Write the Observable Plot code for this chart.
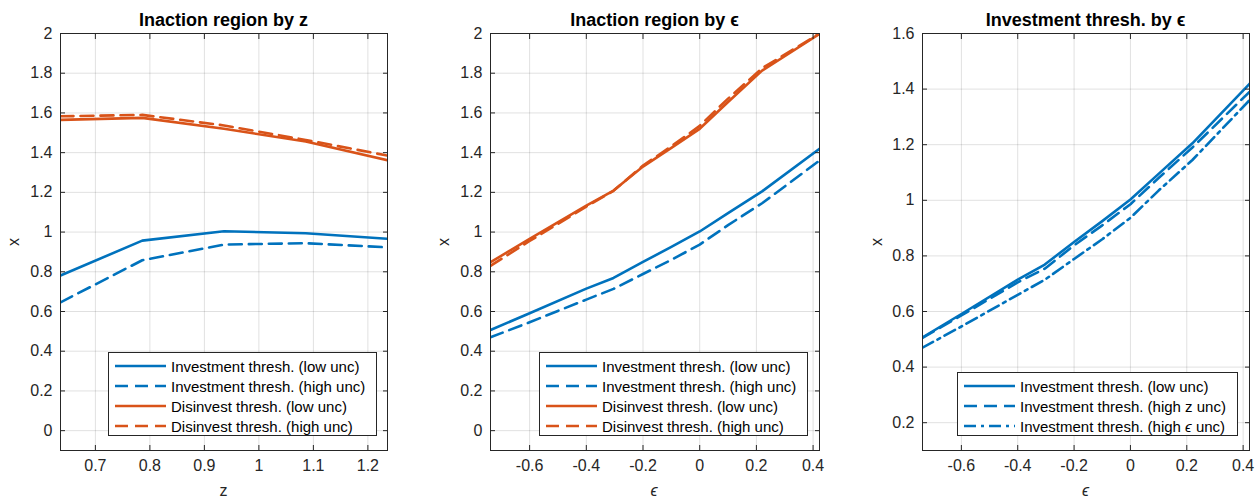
<!DOCTYPE html>
<html><head><meta charset="utf-8">
<script src="https://cdn.jsdelivr.net/npm/d3@7"></script>
<script src="https://cdn.jsdelivr.net/npm/@observablehq/plot@0.6"></script>
<style>
body{margin:0;background:#fff;font-family:"Liberation Sans",Arial,sans-serif;}
#wrap{position:relative;width:1257px;height:500px;overflow:hidden;background:#fff;}
.panel{position:absolute;top:0;}
.title{position:absolute;font-weight:bold;font-size:18px;color:#000;transform:translate(-50%,-50%);white-space:nowrap;}
.lab{position:absolute;font-size:16px;color:#262626;transform:translate(-50%,-50%);white-space:nowrap;}
.legend{position:absolute;border:1px solid #262626;background:#fff;box-sizing:border-box;padding-top:3px;}
.row{display:flex;align-items:center;height:20px;font-size:15px;color:#000;white-space:nowrap;}
.row svg{margin-left:6px;margin-right:5px;flex:none;}
</style></head><body><div id="wrap"></div>
<script>
// ---------- data ----------
const zGrid    = [0.636, 0.786, 0.936, 1.086, 1.236];
const zInvLow  = [0.781, 0.957, 1.004, 0.994, 0.966];
const zInvHigh = [0.646, 0.858, 0.937, 0.944, 0.923];
const zDisLow  = [1.565, 1.575, 1.520, 1.456, 1.362];
const zDisHigh = [1.583, 1.590, 1.537, 1.464, 1.385];

const epsGrid   = [-0.738, -0.6, -0.4, -0.304, -0.2, -0.1, 0, 0.1, 0.22, 0.4226];
const eInvLow   = [0.507, 0.591, 0.715, 0.769, 0.850, 0.925, 1.003, 1.095, 1.205, 1.419];
const eInvHigh  = [0.470, 0.546, 0.660, 0.714, 0.789, 0.860, 0.937, 1.035, 1.145, 1.360];
const eDisLow   = [0.848, 0.966, 1.133, 1.209, 1.330, 1.424, 1.520, 1.655, 1.813, 1.998];
const eDisHigh  = [0.830, 0.955, 1.128, 1.208, 1.335, 1.432, 1.535, 1.672, 1.825, 2.000];
const eInvHighZ = [0.505, 0.586, 0.705, 0.754, 0.838, 0.910, 0.986, 1.080, 1.190, 1.390];

const ticksZ   = [0.7, 0.8, 0.9, 1.0, 1.1, 1.2];
const ticksEps = [-0.6, -0.4, -0.2, 0, 0.2, 0.4];
const ticksY12 = [0, 0.2, 0.4, 0.6, 0.8, 1, 1.2, 1.4, 1.6, 1.8, 2];
const ticksY3  = [0.2, 0.4, 0.6, 0.8, 1, 1.2, 1.4, 1.6];

const titles = ["Inaction region by z", "Inaction region by \u03f5", "Investment thresh. by \u03f5"];
const legend12 = ["Investment thresh. (low unc)", "Investment thresh. (high unc)", "Disinvest thresh. (low unc)", "Disinvest thresh. (high unc)"];
const legend3  = ["Investment thresh. (low unc)", "Investment thresh. (high z unc)", "Investment thresh. (high <i>\u03f5</i> unc)"];

// ---------- styling ----------
const BLUE = "#0072BD", ORANGE = "#D95319";
const SOLID = null, DASH = "13,7", DASHDOT = "12,5,3,5";
const fmt = d => String(+d.toFixed(1));
const series = (xs, ys) => xs.map((x, i) => ({x, y: ys[i]}));
const wrap = document.getElementById("wrap");

function panel({left, width, ml, mr, xDomain, yDomain, xTicks, yTicks, lines}) {
  const marks = [
    Plot.gridX(xTicks, {stroke: "#000", strokeOpacity: 0.12}),
    Plot.gridY(yTicks, {stroke: "#000", strokeOpacity: 0.12}),
    ...lines.map(l => Plot.line(series(l.xs, l.ys), {x: "x", y: "y", stroke: l.color, strokeWidth: 2.6, strokeDasharray: l.dash, clip: true})),
    Plot.frame({stroke: "#262626", strokeWidth: 1}),
    Plot.axisX(xTicks, {anchor: "bottom", tickSize: 0, tickPadding: 9, tickFormat: fmt, label: null}),
    Plot.axisY(yTicks, {anchor: "left", tickSize: 0, tickPadding: 8, tickFormat: fmt, label: null}),
    Plot.axisX(xTicks, {anchor: "bottom", tickSize: -5, tickFormat: () => "", label: null}),
    Plot.axisX(xTicks, {anchor: "top", tickSize: -5, tickFormat: () => "", label: null}),
    Plot.axisY(yTicks, {anchor: "left", tickSize: -5, tickFormat: () => "", label: null}),
    Plot.axisY(yTicks, {anchor: "right", tickSize: -5, tickFormat: () => "", label: null})
  ];
  const svg = Plot.plot({
    width, height: 500,
    marginLeft: ml, marginRight: mr, marginTop: 33, marginBottom: 50,
    x: {domain: xDomain, type: "linear"},
    y: {domain: yDomain, type: "linear"},
    style: {fontFamily: "'Liberation Sans', Arial, sans-serif", fontSize: "16px", color: "#262626", background: "transparent", overflow: "visible"},
    marks
  });
  svg.classList.add("panel");
  svg.style.left = left + "px";
  wrap.appendChild(svg);
}

function addDiv(cls, html, x, y, extra) {
  const d = document.createElement("div");
  d.className = cls; d.innerHTML = html;
  d.style.left = x + "px"; d.style.top = y + "px";
  if (extra) d.style.transform = extra;
  wrap.appendChild(d);
}

function legend(x, y, w, items) {
  const d = document.createElement("div");
  d.className = "legend";
  d.style.left = x + "px"; d.style.top = y + "px"; d.style.width = w + "px";
  d.style.height = (items.length * 20 + 4) + "px";
  for (const it of items) {
    const r = document.createElement("div");
    r.className = "row";
    r.innerHTML = `<svg width="51" height="10"><line x1="0" y1="5" x2="51" y2="5" stroke="${it.color}" stroke-width="2.6" ${it.dash ? `stroke-dasharray="${it.dash}"` : ""}/></svg><span>${it.label}</span>`;
    d.appendChild(r);
  }
  wrap.appendChild(d);
}

// Panel 1
panel({left: 0, width: 400, ml: 60, mr: 13, xDomain: [0.636, 1.236], yDomain: [-0.1, 2], xTicks: ticksZ, yTicks: ticksY12,
  lines: [
    {xs: zGrid, ys: zInvLow, color: BLUE, dash: SOLID},
    {xs: zGrid, ys: zInvHigh, color: BLUE, dash: DASH},
    {xs: zGrid, ys: zDisLow, color: ORANGE, dash: SOLID},
    {xs: zGrid, ys: zDisHigh, color: ORANGE, dash: DASH}
  ]});
// Panel 2
panel({left: 420, width: 420, ml: 70, mr: 21, xDomain: [-0.738, 0.4226], yDomain: [-0.1, 2], xTicks: ticksEps, yTicks: ticksY12,
  lines: [
    {xs: epsGrid, ys: eInvLow, color: BLUE, dash: SOLID},
    {xs: epsGrid, ys: eInvHigh, color: BLUE, dash: DASH},
    {xs: epsGrid, ys: eDisLow, color: ORANGE, dash: SOLID},
    {xs: epsGrid, ys: eDisHigh, color: ORANGE, dash: DASH}
  ]});
// Panel 3
panel({left: 840, width: 417, ml: 82, mr: 8, xDomain: [-0.738, 0.4226], yDomain: [0.1, 1.6], xTicks: ticksEps, yTicks: ticksY3,
  lines: [
    {xs: epsGrid, ys: eInvLow, color: BLUE, dash: SOLID},
    {xs: epsGrid, ys: eInvHighZ, color: BLUE, dash: DASH},
    {xs: epsGrid, ys: eInvHigh, color: BLUE, dash: DASHDOT}
  ]});

// titles
addDiv("title", titles[0], 223.5, 20);
addDiv("title", titles[1], 654.5, 20);
addDiv("title", titles[2], 1085.5, 20);
// axis labels
addDiv("lab", "x", 14, 242, "translate(-50%,-50%) rotate(-90deg)");
addDiv("lab", "x", 444, 242, "translate(-50%,-50%) rotate(-90deg)");
addDiv("lab", "x", 877, 242, "translate(-50%,-50%) rotate(-90deg)");
addDiv("lab", "z", 223.5, 491);
addDiv("lab", "<i>\u03f5</i>", 654, 491);
addDiv("lab", "<i>\u03f5</i>", 1085.5, 491);

// legends
legend(108, 352, 269, [
  {label: legend12[0], color: BLUE, dash: SOLID},
  {label: legend12[1], color: BLUE, dash: DASH},
  {label: legend12[2], color: ORANGE, dash: SOLID},
  {label: legend12[3], color: ORANGE, dash: DASH}
]);
legend(539, 352, 269, [
  {label: legend12[0], color: BLUE, dash: SOLID},
  {label: legend12[1], color: BLUE, dash: DASH},
  {label: legend12[2], color: ORANGE, dash: SOLID},
  {label: legend12[3], color: ORANGE, dash: DASH}
]);
legend(957, 372, 281, [
  {label: legend3[0], color: BLUE, dash: SOLID},
  {label: legend3[1], color: BLUE, dash: DASH},
  {label: legend3[2], color: BLUE, dash: DASHDOT}
]);
</script>
</body></html>
